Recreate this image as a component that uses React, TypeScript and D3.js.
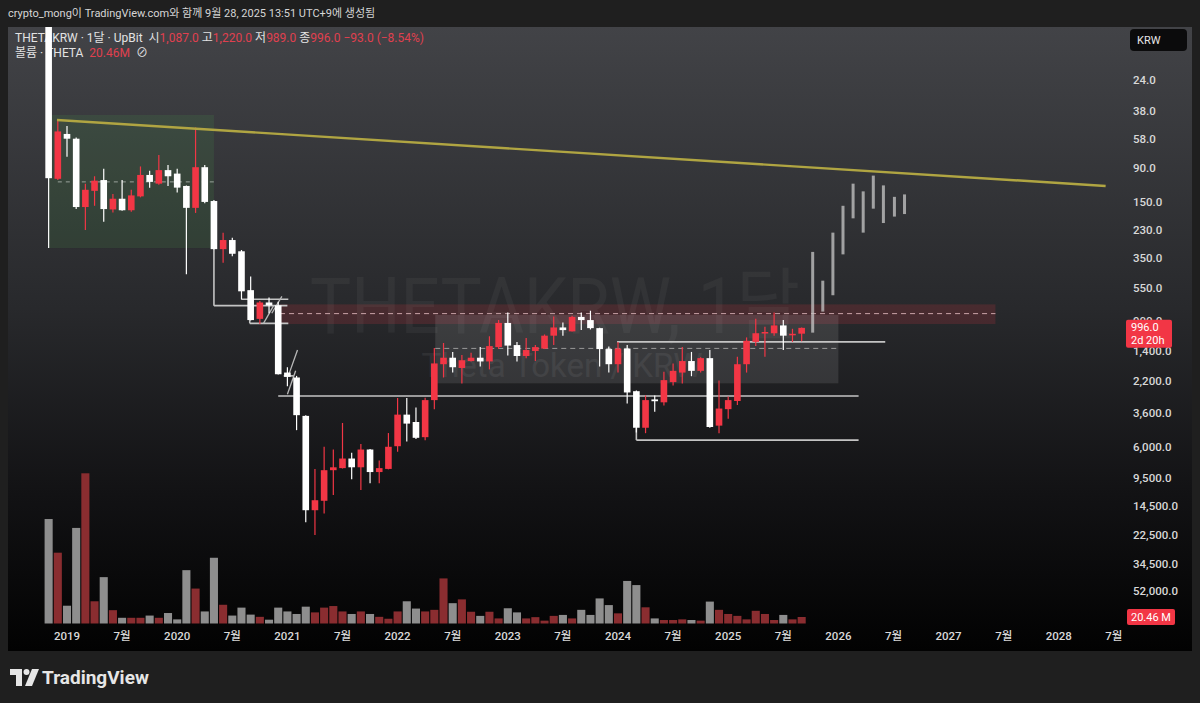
import React from 'react';
import * as d3 from 'd3';

// ---- data (monthly candles starting Nov 2018) ----
const startMonth = '2018-11';
const opens = [8,106,54,58,162,127,108,168,143,170,138,100,114,93,98,118,164,89,148,305,266,315,565,870,680,710,1950,2100,3740,15440,13400,8460,8200,7100,8100,6200,8700,8300,5900,3670,4100,5150,2950,1720,1560,1820,1640,1560,1650,1330,925,1290,1520,1410,1360,1120,990,1050,845,886,1000,1370,1720,1360,2580,4470,2920,3050,2250,1950,1640,1900,1570,4330,3380,2990,1720,1230,1080,1080,960,1110,1087];
const highs = [300,108,76,167,229,159,202,176,171,174,140,121,116,118,130,445,177,153,308,374,339,650,890,940,800,2010,2400,4635,18500,22400,16200,12300,8250,9700,11400,10300,10300,8350,6400,5500,5300,5400,3380,2100,1950,2300,1650,1780,1860,1370,1510,1650,1570,1640,1370,1290,1120,1050,1030,1020,1780,1950,1950,3100,4800,4850,3520,3200,2370,2300,2060,1950,4470,4850,3900,3180,1950,1310,1540,1120,1390,1230,1220];
const lows = [7,44,48,57,114,102,91,133,108,125,88,94,74,86,91,117,49,86,146,238,257,309,460,665,630,672,1800,2050,3700,8300,5950,6200,4160,6500,5700,6150,7300,4840,2860,2860,3300,2850,1350,1250,1430,1500,1450,1330,1130,886,790,1230,1160,1290,1100,840,920,830,790,770,995,1320,1230,1290,2550,2750,2750,1930,1700,1330,1430,1550,1390,2200,2790,1540,1150,870,980,790,886,1010,989];
const closes = [105,52,58,162,125,109,167,143,170,136,100,111,93,102,121,164,89,150,305,266,327,575,886,680,710,2000,2080,3700,15440,13286,8460,8100,7100,8100,6200,8700,8200,5950,3670,4200,5200,2950,1700,1560,1800,1620,1560,1650,1310,925,1300,1520,1390,1330,1120,990,1030,845,886,1000,1370,1720,1360,2630,4470,2950,3000,2185,1900,1640,1900,1570,4420,3350,2950,1720,1210,1080,1060,960,1120,1089,996];
const volumesM = [329,223,56,301,473,70,146,42,18,18,18,25,18,33,13,168,110,38,207,59,25,50,28,21,12,50,38,30,53,35,50,55,38,30,38,30,21,15,38,70,47,38,43,142,64,76,37,24,37,16,48,35,16,20,9,24,27,16,43,27,79,58,32,134,121,51,16,11,11,13,11,9,69,43,30,24,13,40,30,11,27,13,20.46];

// projected bars (bars-pattern drawing)
const ghostMonth = [81.2,82.3,83.4,84.5,85.6,86.7,87.8,88.9,90.1,91.2];
const ghostLow = [318,490,238,159,114,128,101,117,139,134];
const ghostHigh = [1070,780,610,330,192,238,166,206,187,180];

const priceTicks = [24,38,58,90,150,230,350,550,900,1400,2200,3600,6000,9500,14500,22500,34500,52000];
const timeTickMonths = d3.range(0, 115, 6);

// drawings: [month, price]
const trendLine = [[-1.09, 43.8], [113.1, 118]];
const greenBox = { m0: -2.05, m1: 16, p0: 40.6, p1: 300 };
const greenDash = { m0: -1, m1: 16, p: 111 };
const pinkBand = { m0: 23.2, m1: 101.1, p0: 700, p1: 940, dash: 804 };
const grayBox = { m0: 40.1, m1: 84, p0: 821, p1: 2292, dash: 1356 };
const solidLines = [
  [[16, 305], [16, 713]],
  [[16, 713], [24, 713]],
  [[19, 648], [24.1, 648]],
  [[19.9, 931], [24.1, 931]],
  [[19.9, 783], [19.9, 931]],
  [[23.0, 2775], [86.2, 2775]],
  [[62, 4470], [62, 5380]],
  [[62, 5380], [86.2, 5380]],
  [[59.9, 1229], [89.1, 1229]],
  [[23.6, 2050], [24.7, 2050]],
];
const diagLines = [
  [[21.4, 931], [22.5, 713]],
  [[22.3, 800], [23.4, 620]],
  [[24.1, 2050], [25.1, 1390]],
  [[24.0, 2700], [24.9, 1900]],
];

const W = 1200, H = 703;
const RED = '#f23645';
const LRED = '#e0404f';
const FONT = "Roboto, 'Noto Sans CJK KR', sans-serif";

export default function App() {
  const [sy, sm] = startMonth.split('-').map(Number);
  const startIdx = (sy - 2019) * 12 + (sm - 1);

  const x = d3.scaleLinear().domain([0, 12]).range([67, 177.2]);
  const y = d3.scaleLog().domain([24, 52000]).range([80, 591]);
  const vy = d3.scaleLinear().domain([0, 473]).range([623.5, 473.3]);
  const step = x(1) - x(0);
  const bodyW = step * 0.72;
  const volW = step * 0.88;

  const candles = opens.map((o, i) => ({
    m: startIdx + i, o, h: highs[i], l: lows[i], c: closes[i], v: volumesM[i],
  }));
  const last = candles[candles.length - 1];
  const prev = candles[candles.length - 2];
  const chg = last.c - prev.c;
  const fmt = d3.format(',.1f');
  const timeLabel = (m: number) => {
    const yr = 2019 + Math.floor(m / 12);
    const mo = (m % 12) + 1;
    return mo === 1 ? String(yr) : `${mo}월`;
  };
  const pt = (d: number[]) => [x(d[0]), y(d[1])];
  const pre = { whiteSpace: 'pre' } as React.CSSProperties;

  return (
    <svg width={W} height={H} style={{ position: 'fixed', left: 0, top: 0 }} fontFamily={FONT}>
      <defs>
        <linearGradient id="bg" x1="0" y1="0" x2="0" y2="1">
          <stop offset="0" stopColor="#424347" />
          <stop offset="0.45" stopColor="#28292c" />
          <stop offset="0.75" stopColor="#121214" />
          <stop offset="1" stopColor="#020202" />
        </linearGradient>
        <clipPath id="plot">
          <rect x={8} y={27} width={1112} height={598} />
        </clipPath>
      </defs>
      <rect width={W} height={H} fill="#1f1f1f" />
      <text x={8} y={17} fontSize={11} fill="#d6d6d6">crypto_mong이 TradingView.com와 함께 9월 28, 2025 13:51 UTC+9에 생성됨</text>
      <rect x={8} y={27} width={1184} height={624} fill="url(#bg)" />

      <g clipPath="url(#plot)">
        {/* boxes */}
        <rect x={x(greenBox.m0)} y={y(greenBox.p0)} width={x(greenBox.m1) - x(greenBox.m0)} height={y(greenBox.p1) - y(greenBox.p0)} fill="#4caf50" opacity={0.13} />
        <line x1={x(greenDash.m0)} x2={x(greenDash.m1)} y1={y(greenDash.p)} y2={y(greenDash.p)} stroke="#9aa39c" strokeDasharray="4 4" strokeWidth={1} />
        <rect x={x(pinkBand.m0)} y={y(pinkBand.p0)} width={x(pinkBand.m1) - x(pinkBand.m0)} height={y(pinkBand.p1) - y(pinkBand.p0)} fill={RED} opacity={0.16} />
        <rect x={x(grayBox.m0)} y={y(grayBox.p0)} width={x(grayBox.m1) - x(grayBox.m0)} height={y(grayBox.p1) - y(grayBox.p0)} fill="#ffffff" opacity={0.1} />
        {/* watermark */}
        <text x={555} y={333} textAnchor="middle" fontSize={78} fill="#ffffff" opacity={0.04} textLength={490} lengthAdjust="spacingAndGlyphs">THETAKRW, 1달</text>
        <text x={562} y={377} textAnchor="middle" fontSize={33} fill="#ffffff" opacity={0.06}>Theta Token / KRW</text>
        <line x1={x(pinkBand.m0)} x2={x(pinkBand.m1)} y1={y(pinkBand.dash)} y2={y(pinkBand.dash)} stroke="#c9a3a8" strokeDasharray="5 4" strokeWidth={1} />
        <line x1={x(grayBox.m0)} x2={x(grayBox.m1)} y1={y(grayBox.dash)} y2={y(grayBox.dash)} stroke="#9a9a9a" strokeDasharray="5 4" strokeWidth={1} />
        {solidLines.map((l, i) => {
          const [a, b] = [pt(l[0]), pt(l[1])];
          return <line key={i} x1={a[0]} y1={a[1]} x2={b[0]} y2={b[1]} stroke="#c4c4c4" strokeWidth={1.6} />;
        })}
        {diagLines.map((l, i) => {
          const [a, b] = [pt(l[0]), pt(l[1])];
          return <line key={i} x1={a[0]} y1={a[1]} x2={b[0]} y2={b[1]} stroke="#b8b8b8" strokeWidth={1.3} />;
        })}
      </g>

      {/* legend */}
      <text x={15} y={42} fontSize={12} fill="#e3e3e3" style={pre}>
        <tspan>THETAKRW · 1달 · UpBit  시</tspan>
        <tspan fill={LRED}>{fmt(last.o)}</tspan>
        <tspan> 고</tspan><tspan fill={LRED}>{fmt(last.h)}</tspan>
        <tspan> 저</tspan><tspan fill={LRED}>{fmt(last.l)}</tspan>
        <tspan> 종</tspan><tspan fill={LRED}>{fmt(last.c)}</tspan>
        <tspan fill={LRED}>{` ${d3.format('.1f')(chg)} (${d3.format('.2f')(chg / prev.c * 100)}%)`}</tspan>
      </text>
      <text x={15} y={57} fontSize={12} fill="#e3e3e3" style={pre}>
        <tspan>볼륨 · THETA  </tspan>
        <tspan fill={LRED}>{`${last.v}M`}</tspan>
        <tspan>  ⊘</tspan>
      </text>

      <g clipPath="url(#plot)">
        {/* volume */}
        {candles.map((d, i) => (
          <rect key={'v' + i} x={x(d.m) - volW / 2} y={vy(d.v)} width={volW} height={vy(0) - vy(d.v)} fill={d.c >= d.o ? '#8e8e8e' : '#8a2d30'} />
        ))}
        {/* candles */}
        {candles.map((d, i) => {
          const col = d.c >= d.o ? '#ffffff' : RED;
          const y0 = Math.min(y(d.o), y(d.c));
          const y1 = Math.max(y(d.o), y(d.c));
          return (
            <g key={'c' + i}>
              <line x1={x(d.m)} x2={x(d.m)} y1={y(d.l)} y2={y(d.h)} stroke={col} strokeWidth={1.2} />
              <rect x={x(d.m) - bodyW / 2} y={y0} width={bodyW} height={Math.max(1.5, y1 - y0)} fill={col} />
            </g>
          );
        })}
        {/* projected bars */}
        {ghostMonth.map((m, i) => (
          <rect key={'g' + i} x={x(m) - 1.5} y={y(ghostLow[i])} width={3} height={y(ghostHigh[i]) - y(ghostLow[i])} fill="#c8c8c8" opacity={0.75} />
        ))}
        {/* trend line */}
        <line x1={pt(trendLine[0])[0]} y1={pt(trendLine[0])[1]} x2={pt(trendLine[1])[0]} y2={pt(trendLine[1])[1]} stroke="#b0a542" strokeWidth={2.4} />
      </g>

      {/* price axis */}
      <rect x={1130} y={29} width={57} height={22} rx={4} fill="#0b0b0c" />
      <text x={1137} y={44} fontSize={11} fill="#e6e6e6">KRW</text>
      {priceTicks.map((p) => (
        <text key={p} x={1133} y={y(p)} dy="0.35em" fontSize={11.5} fontWeight={500} fill="#d8d8d8">{fmt(p)}</text>
      ))}
      <rect x={1126} y={y(last.c) - 8} width={46} height={28} rx={2} fill={RED} />
      <text x={1131} y={y(last.c) + 3} fontSize={11} fill="#ffffff">{fmt(last.c)}</text>
      <text x={1131} y={y(last.c) + 16} fontSize={11} fill="#ffffff">2d 20h</text>
      <rect x={1127} y={vy(last.v) - 8} width={48} height={16} rx={2} fill={RED} />
      <text x={1131} y={vy(last.v) + 4} fontSize={11} fill="#ffffff">{`${last.v} M`}</text>

      {/* time axis */}
      {timeTickMonths.map((m) => (
        <text key={m} x={x(m)} y={640} textAnchor="middle" fontSize={11.5} fontWeight={500} fill="#d8d8d8">{timeLabel(m)}</text>
      ))}

      {/* footer logo */}
      <g transform="translate(10,668)" fill="#e6e6e6">
        <path d="M0,1 H12 V18 H6 V7 H0 Z" />
        <circle cx={16.5} cy={4} r={3} />
        <path d="M22,1 H29 L22,18 H15 Z" />
        <text x={32} y={16} fontSize={19} fontWeight={700} fontFamily={FONT}>TradingView</text>
      </g>
    </svg>
  );
}
